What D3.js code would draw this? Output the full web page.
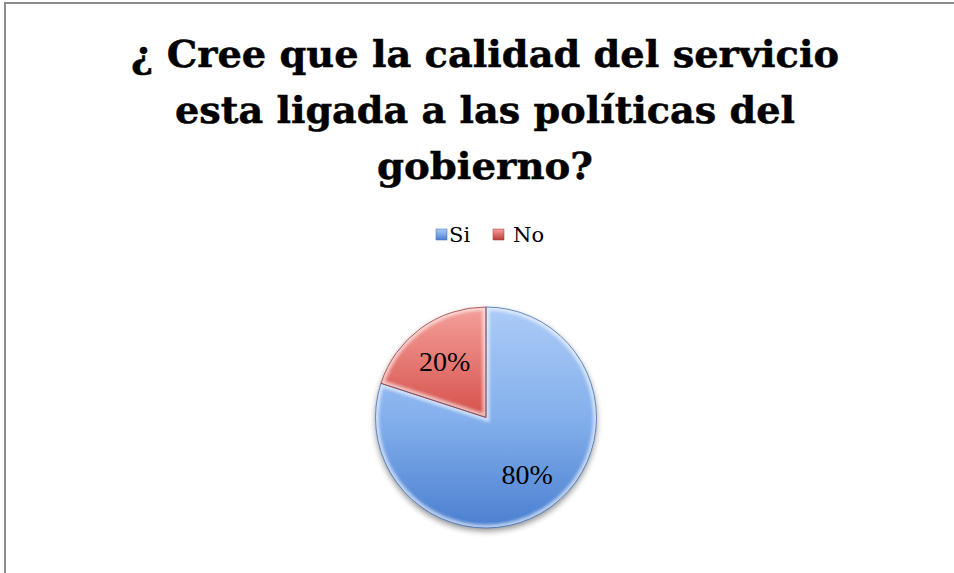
<!DOCTYPE html>
<html>
<head>
<meta charset="utf-8">
<script src="https://cdn.jsdelivr.net/npm/d3@7"></script>
<style>
  html, body { margin: 0; padding: 0; background: #ffffff; }
  svg { display: block; }
</style>
</head>
<body>
<script>
// Survey answers and their shares
const categories = ["Si", "No"];
const values = [80, 20];
const valueLabels = ["80%", "20%"];
const titleLines = [
  "¿ Cree que la calidad del servicio",
  "esta ligada a las políticas del",
  "gobierno?"
];
// slice shading: colour at top, middle and bottom of the pie
const sliceStops = [
  ["#accbf7", "#84b0ec", "#4a7fd0"],
  ["#f4a09b", "#d6504b", "#b83c38"]
];
const edgeColors = ["#3d69aa", "#9e3a36"];

const W = 954, H = 573;
const cx = 486, cy = 417.5, R = 110.5;

const svg = d3.select("body").append("svg")
  .attr("width", W).attr("height", H);

const defs = svg.append("defs");

// chart frame
svg.append("rect")
  .attr("x", 5).attr("y", 3)
  .attr("width", W + 20).attr("height", H + 20)
  .attr("fill", "#ffffff")
  .attr("stroke", "#8c8c8c")
  .attr("stroke-width", 2);

// title
const title = svg.append("g")
  .attr("font-family", "'DejaVu Serif', serif")
  .attr("font-weight", "bold")
  .attr("font-size", 37.5)
  .attr("fill", "#000")
  .attr("stroke", "#000")
  .attr("stroke-width", 0.5);
const titleWidths = [708, 620, 216];
title.selectAll("text").data(titleLines).join("text")
  .attr("x", 485)
  .attr("y", (d, i) => 67 + i * 56)
  .attr("text-anchor", "middle")
  .attr("textLength", (d, i) => titleWidths[i])
  .attr("lengthAdjust", "spacingAndGlyphs")
  .text(d => d);

// gradients for slices (pie-local space) and legend keys
categories.forEach((c, i) => {
  const g = defs.append("linearGradient")
    .attr("id", "grad" + i)
    .attr("gradientUnits", "userSpaceOnUse")
    .attr("x1", 0).attr("y1", -R)
    .attr("x2", 0).attr("y2", R);
  sliceStops[i].forEach((col, j) => {
    g.append("stop").attr("offset", j * 50 + "%").attr("stop-color", col);
  });
  const k = defs.append("linearGradient")
    .attr("id", "key" + i)
    .attr("x1", 0).attr("y1", 0).attr("x2", 0).attr("y2", 1);
  k.append("stop").attr("offset", "0%").attr("stop-color", sliceStops[i][0]);
  k.append("stop").attr("offset", "100%").attr("stop-color", sliceStops[i][2]);
});

// soft drop shadow under the pie
const shadow = defs.append("filter").attr("id", "shadow")
  .attr("x", "-20%").attr("y", "-20%").attr("width", "140%").attr("height", "140%");
shadow.append("feGaussianBlur").attr("in", "SourceAlpha").attr("stdDeviation", 3).attr("result", "b");
shadow.append("feOffset").attr("in", "b").attr("dx", 0).attr("dy", 3).attr("result", "o");
shadow.append("feComponentTransfer").attr("in", "o").attr("result", "s")
  .append("feFuncA").attr("type", "linear").attr("slope", 0.45);
const merge = shadow.append("feMerge");
merge.append("feMergeNode").attr("in", "s");
merge.append("feMergeNode").attr("in", "SourceGraphic");

const soft = defs.append("filter").attr("id", "soft")
  .attr("x", "-10%").attr("y", "-10%").attr("width", "120%").attr("height", "120%");
soft.append("feGaussianBlur").attr("stdDeviation", 1.4);

// legend
const legend = svg.append("g")
  .attr("font-family", "'DejaVu Serif', serif")
  .attr("font-size", 21);
const legendX = [436, 493];
const item = legend.selectAll("g").data(categories).join("g")
  .attr("transform", (d, i) => `translate(${legendX[i]},229)`);
item.append("rect")
  .attr("width", 11).attr("height", 11)
  .attr("fill", (d, i) => `url(#key${i})`)
  .attr("stroke", (d, i) => edgeColors[i])
  .attr("stroke-width", 0.5);
item.append("text")
  .attr("x", (d, i) => i === 0 ? 13 : 20)
  .attr("y", 13)
  .text(d => d);

// pie
const pie = d3.pie().sort(null).value(d => d);
const arcs = pie(values);
const arc = d3.arc().innerRadius(0).outerRadius(R);
const labelArc = d3.arc().innerRadius(0).outerRadius(R * 1.27);

const pieG = svg.append("g")
  .attr("transform", `translate(${cx},${cy})`);

const body = pieG.append("g").attr("filter", "url(#shadow)");
body.selectAll("path.slice").data(arcs).join("path")
  .attr("class", "slice")
  .attr("d", arc)
  .attr("fill", (d, i) => `url(#grad${i})`);

// bevel highlight along each slice's rim
arcs.forEach((d, i) => {
  defs.append("clipPath").attr("id", "clip" + i)
    .append("path").attr("d", arc(d));
});
pieG.selectAll("path.rim").data(arcs).join("path")
  .attr("class", "rim")
  .attr("d", arc)
  .attr("fill", "none")
  .attr("stroke", "#ffffff")
  .attr("stroke-opacity", 0.6)
  .attr("stroke-width", 7)
  .attr("filter", "url(#soft)")
  .attr("clip-path", (d, i) => `url(#clip${i})`);

pieG.selectAll("path.edge").data(arcs).join("path")
  .attr("class", "edge")
  .attr("d", arc)
  .attr("fill", "none")
  .attr("stroke", (d, i) => edgeColors[i])
  .attr("stroke-opacity", 0.75)
  .attr("stroke-width", 1);

// value labels
pieG.selectAll("text").data(arcs).join("text")
  .attr("transform", d => `translate(${labelArc.centroid(d)})`)
  .attr("text-anchor", "middle")
  .attr("dy", "0.35em")
  .attr("font-family", "'Liberation Serif', serif")
  .attr("font-size", 28)
  .attr("fill", "#000")
  .text((d, i) => valueLabels[i]);
</script>
</body>
</html>
